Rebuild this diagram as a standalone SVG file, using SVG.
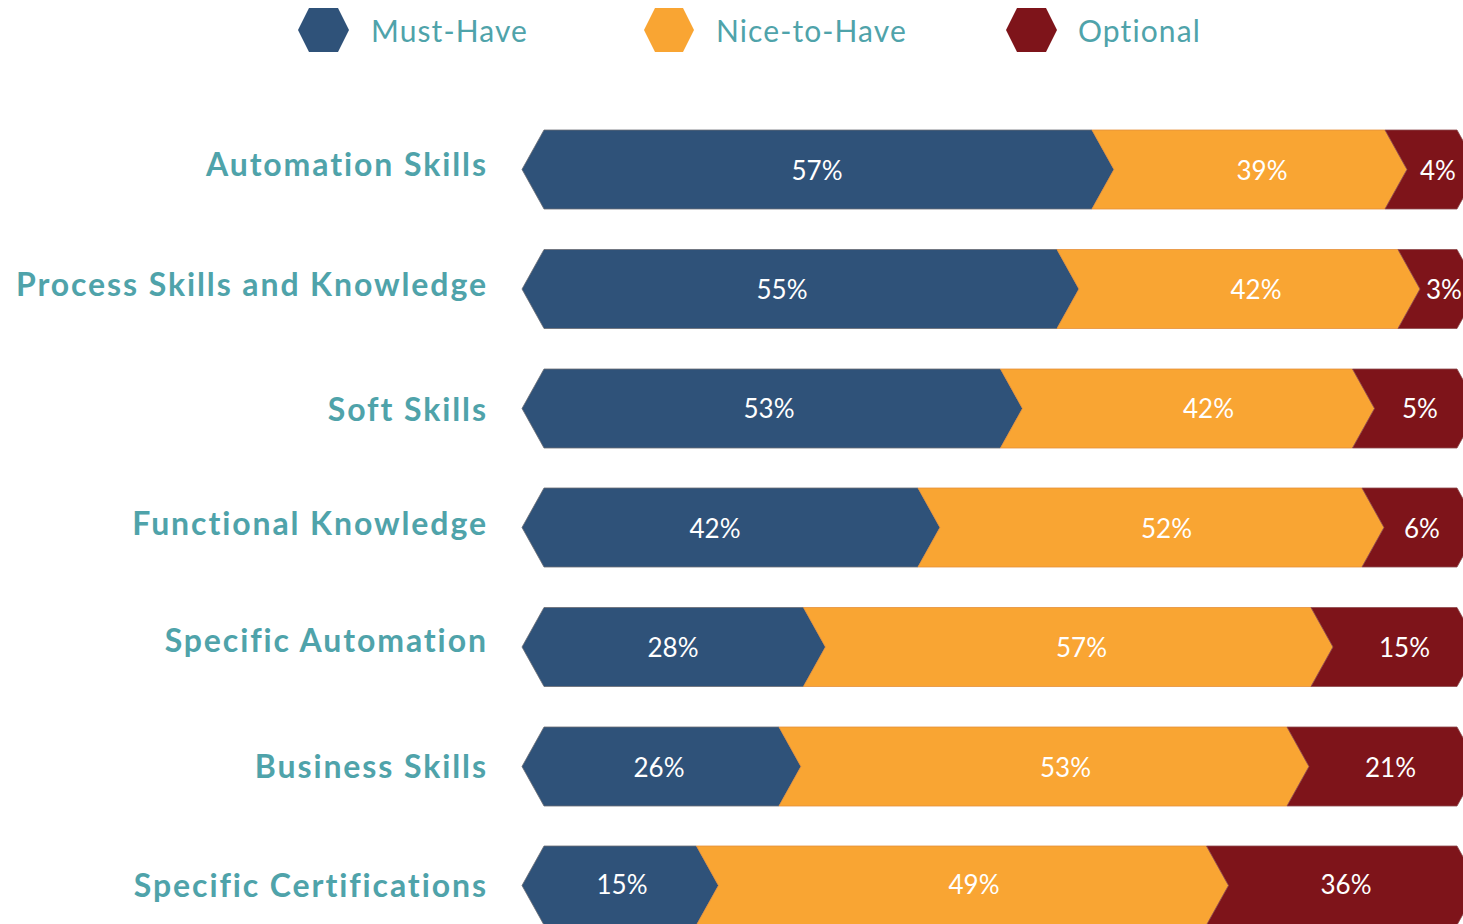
<svg xmlns="http://www.w3.org/2000/svg" width="1463" height="924" viewBox="0 0 1463 924">
<style>
.bg{fill:#ffffff}
.must{fill:#2f5279;stroke:#6a6c74;stroke-width:0.8}
.nice{fill:#f9a533;stroke:#e48f3a;stroke-width:0.8}
.opt{fill:#7e141a;stroke:#8e4a4e;stroke-width:0.8}
.cat{font-family:Lato,"Liberation Sans",sans-serif;font-size:32px;font-weight:700;letter-spacing:1.9px;fill:#4fa3aa;text-anchor:end}
.leg{font-family:Lato,"Liberation Sans",sans-serif;font-size:30px;font-weight:400;letter-spacing:1.1px;fill:#4fa3aa}
.pct{font-family:Lato,"Liberation Sans",sans-serif;font-size:26px;font-weight:400;fill:#ffffff;text-anchor:middle}
</style>
<rect class="bg" x="0" y="0" width="1463" height="924"/>
<g id="legend">
  <g id="legend-must">
    <polygon class="must" style="stroke:none" points="298,30 309,8 338,8 349,30 338,52 309,52"/>
    <text class="leg" x="371" y="42">Must-Have</text>
  </g>
  <g id="legend-nice">
    <polygon class="nice" style="stroke:none" points="644,30 655,8 683,8 694,30 683,52 655,52"/>
    <text class="leg" x="716" y="42">Nice-to-Have</text>
  </g>
  <g id="legend-opt">
    <polygon class="opt" style="stroke:none" points="1006,30 1017,8 1046,8 1057,30 1046,52 1017,52"/>
    <text class="leg" x="1078" y="42">Optional</text>
  </g>
</g>
<g id="connectors"></g>
<g id="row-automation-skills">
  <text class="cat" x="487.9" y="176">Automation Skills</text>
  <polygon class="must" points="544,130 1092,130 1114,169.5 1092,209 544,209 522,169.5"/>
  <polygon class="nice" points="1092,130 1385,130 1407,169.5 1385,209 1092,209 1114,169.5"/>
  <polygon class="opt" points="1385,130 1457,130 1479,169.5 1457,209 1385,209 1407,169.5"/>
  <text class="pct" x="817" y="180">57%</text>
  <text class="pct" x="1262" y="180">39%</text>
  <text class="pct" x="1438" y="180">4%</text>
</g>
<g id="row-process-skills">
  <text class="cat" x="487.9" y="296">Process Skills and Knowledge</text>
  <polygon class="must" points="544,249.5 1057,249.5 1079,289 1057,328.5 544,328.5 522,289"/>
  <polygon class="nice" points="1057,249.5 1398,249.5 1420,289 1398,328.5 1057,328.5 1079,289"/>
  <polygon class="opt" points="1398,249.5 1457,249.5 1479,289 1457,328.5 1398,328.5 1420,289"/>
  <text class="pct" x="782" y="299">55%</text>
  <text class="pct" x="1256" y="299">42%</text>
  <text class="pct" x="1444" y="299">3%</text>
</g>
<g id="row-soft-skills">
  <text class="cat" x="487.9" y="421">Soft Skills</text>
  <polygon class="must" points="544,369 1000.5,369 1022.5,408.5 1000.5,448 544,448 522,408.5"/>
  <polygon class="nice" points="1000.5,369 1352.5,369 1374.5,408.5 1352.5,448 1000.5,448 1022.5,408.5"/>
  <polygon class="opt" points="1352.5,369 1457,369 1479,408.5 1457,448 1352.5,448 1374.5,408.5"/>
  <text class="pct" x="769" y="418">53%</text>
  <text class="pct" x="1208.5" y="418">42%</text>
  <text class="pct" x="1420" y="418">5%</text>
</g>
<g id="row-functional-knowledge">
  <text class="cat" x="487.9" y="535">Functional Knowledge</text>
  <polygon class="must" points="544,488 918,488 940,527.5 918,567 544,567 522,527.5"/>
  <polygon class="nice" points="918,488 1362,488 1384,527.5 1362,567 918,567 940,527.5"/>
  <polygon class="opt" points="1362,488 1457,488 1479,527.5 1457,567 1362,567 1384,527.5"/>
  <text class="pct" x="715" y="537.5">42%</text>
  <text class="pct" x="1166.5" y="537.5">52%</text>
  <text class="pct" x="1422" y="537.5">6%</text>
</g>
<g id="row-specific-automation">
  <text class="cat" x="487.9" y="652">Specific Automation</text>
  <polygon class="must" points="544,607.5 803.5,607.5 825.5,647 803.5,686.5 544,686.5 522,647"/>
  <polygon class="nice" points="803.5,607.5 1311,607.5 1333,647 1311,686.5 803.5,686.5 825.5,647"/>
  <polygon class="opt" points="1311,607.5 1457,607.5 1479,647 1457,686.5 1311,686.5 1333,647"/>
  <text class="pct" x="673" y="657">28%</text>
  <text class="pct" x="1081.5" y="657">57%</text>
  <text class="pct" x="1404.5" y="657">15%</text>
</g>
<g id="row-business-skills">
  <text class="cat" x="487.9" y="778">Business Skills</text>
  <polygon class="must" points="544,727 779,727 801,766.5 779,806 544,806 522,766.5"/>
  <polygon class="nice" points="779,727 1287,727 1309,766.5 1287,806 779,806 801,766.5"/>
  <polygon class="opt" points="1287,727 1457,727 1479,766.5 1457,806 1287,806 1309,766.5"/>
  <text class="pct" x="659" y="777">26%</text>
  <text class="pct" x="1065.5" y="777">53%</text>
  <text class="pct" x="1390.5" y="777">21%</text>
</g>
<g id="row-specific-certifications">
  <text class="cat" x="487.9" y="897">Specific Certifications</text>
  <polygon class="must" points="544,846 696.5,846 718.5,885.5 696.5,925 544,925 522,885.5"/>
  <polygon class="nice" points="696.5,846 1206.5,846 1228.5,885.5 1206.5,925 696.5,925 718.5,885.5"/>
  <polygon class="opt" points="1206.5,846 1457,846 1479,885.5 1457,925 1206.5,925 1228.5,885.5"/>
  <text class="pct" x="622" y="894">15%</text>
  <text class="pct" x="974" y="894">49%</text>
  <text class="pct" x="1346" y="894">36%</text>
</g>
</svg>
